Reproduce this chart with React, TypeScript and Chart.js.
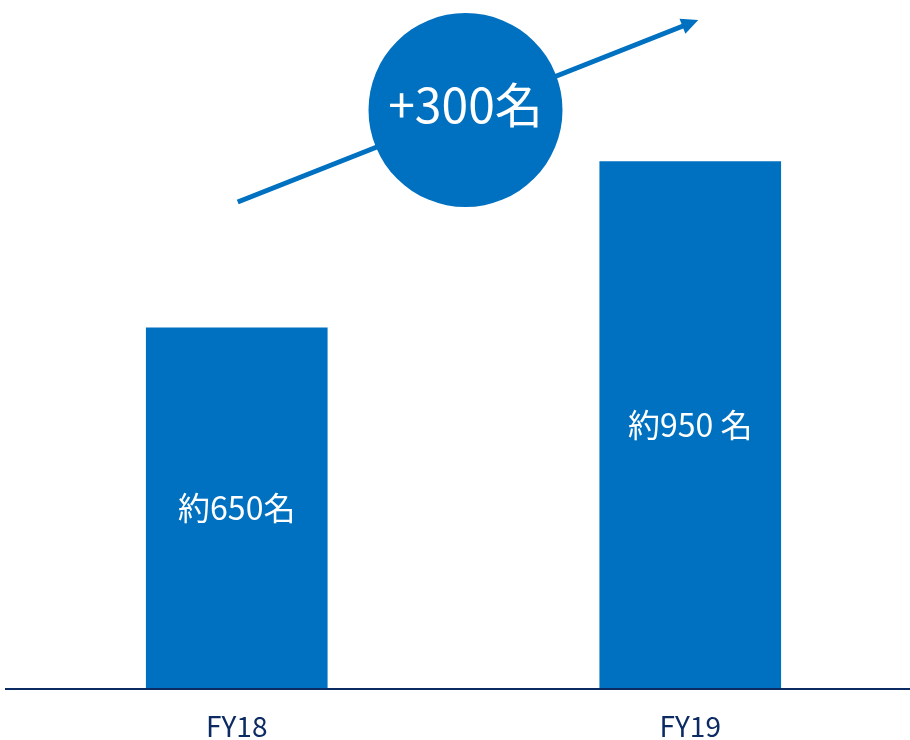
import React, { useEffect, useRef } from "react";
import { Chart, registerables } from "chart.js";

Chart.register(...registerables);

const categories = ["FY18", "FY19"];
const headcount = [650, 950];
const barLabels = ["約650名", "約950 名"];
const increaseLabel = "+300名";

const FONT = '"Noto Sans CJK JP", "Noto Sans", sans-serif';
const BLUE = "#0070C0";
const NAVY = "#0d2b63";

const overlayPlugin = {
  id: "overlay",
  afterDatasetsDraw(chart: any) {
    const { ctx } = chart;
    const meta = chart.getDatasetMeta(0);
    const bars = meta.data;
    ctx.save();
    // bar labels
    ctx.fillStyle = "#ffffff";
    ctx.font = `32px ${FONT}`;
    ctx.textAlign = "center";
    ctx.textBaseline = "middle";
    bars.forEach((b: any, i: number) => {
      const mid = (b.y + b.base) / 2;
      ctx.fillText(barLabels[i], b.x, mid);
    });
    // arrow
    const x0 = bars[0].x + 1;
    const y0 = 202;
    const x1 = bars[1].x + 8;
    const y1 = 20;
    const ang = Math.atan2(y1 - y0, x1 - x0);
    const headLen = 17;
    const headW = 8;
    ctx.strokeStyle = BLUE;
    ctx.fillStyle = BLUE;
    ctx.lineWidth = 5;
    ctx.beginPath();
    ctx.moveTo(x0, y0);
    ctx.lineTo(x1 - Math.cos(ang) * (headLen - 2), y1 - Math.sin(ang) * (headLen - 2));
    ctx.stroke();
    ctx.beginPath();
    ctx.moveTo(x1, y1);
    const bx = x1 - Math.cos(ang) * headLen;
    const by = y1 - Math.sin(ang) * headLen;
    ctx.lineTo(bx + Math.sin(ang) * headW, by - Math.cos(ang) * headW);
    ctx.lineTo(bx - Math.sin(ang) * headW, by + Math.cos(ang) * headW);
    ctx.closePath();
    ctx.fill();
    // circle
    const cx = (bars[0].x + bars[1].x) / 2 + 2;
    const cy = 110;
    ctx.beginPath();
    ctx.arc(cx, cy, 97, 0, Math.PI * 2);
    ctx.fill();
    ctx.fillStyle = "#ffffff";
    ctx.font = `48px ${FONT}`;
    ctx.textAlign = "center";
    ctx.textBaseline = "middle";
    ctx.fillText(increaseLabel, cx, cy - 5);
    // baseline
    const yb = chart.scales.y.getPixelForValue(0);
    ctx.strokeStyle = NAVY;
    ctx.lineWidth = 2;
    ctx.beginPath();
    ctx.moveTo(5, yb + 1);
    ctx.lineTo(chart.width, yb + 1);
    ctx.stroke();
    ctx.restore();
  },
};

export default function App() {
  const ref = useRef<HTMLCanvasElement>(null);
  useEffect(() => {
    const chart = new Chart(ref.current as HTMLCanvasElement, {
      type: "bar",
      data: {
        labels: categories,
        datasets: [
          {
            data: headcount,
            backgroundColor: BLUE,
            borderWidth: 0,
            barThickness: 181,
          },
        ],
      },
      options: {
        responsive: false,
        animation: false,
        layout: { padding: { top: 23, left: 10, right: 3, bottom: -24 } },
        plugins: { legend: { display: false }, tooltip: { enabled: false } },
        scales: {
          x: {
            grid: { display: false, drawTicks: false },
            border: { display: false },
            ticks: {
              color: NAVY,
              padding: 24,
              font: { family: FONT, size: 28, lineHeight: 1.0 },
            },
          },
          y: {
            display: false,
            min: 0,
            max: 1200,
          },
        },
      },
      plugins: [overlayPlugin],
    });
    return () => chart.destroy();
  }, []);
  return (
    <div
      style={{
        position: "absolute",
        left: 0,
        top: 0,
        width: 910,
        height: 740,
        overflow: "hidden",
        background: "#ffffff",
      }}
    >
      <canvas ref={ref} width={920} height={740} style={{ display: "block" }} />
    </div>
  );
}
